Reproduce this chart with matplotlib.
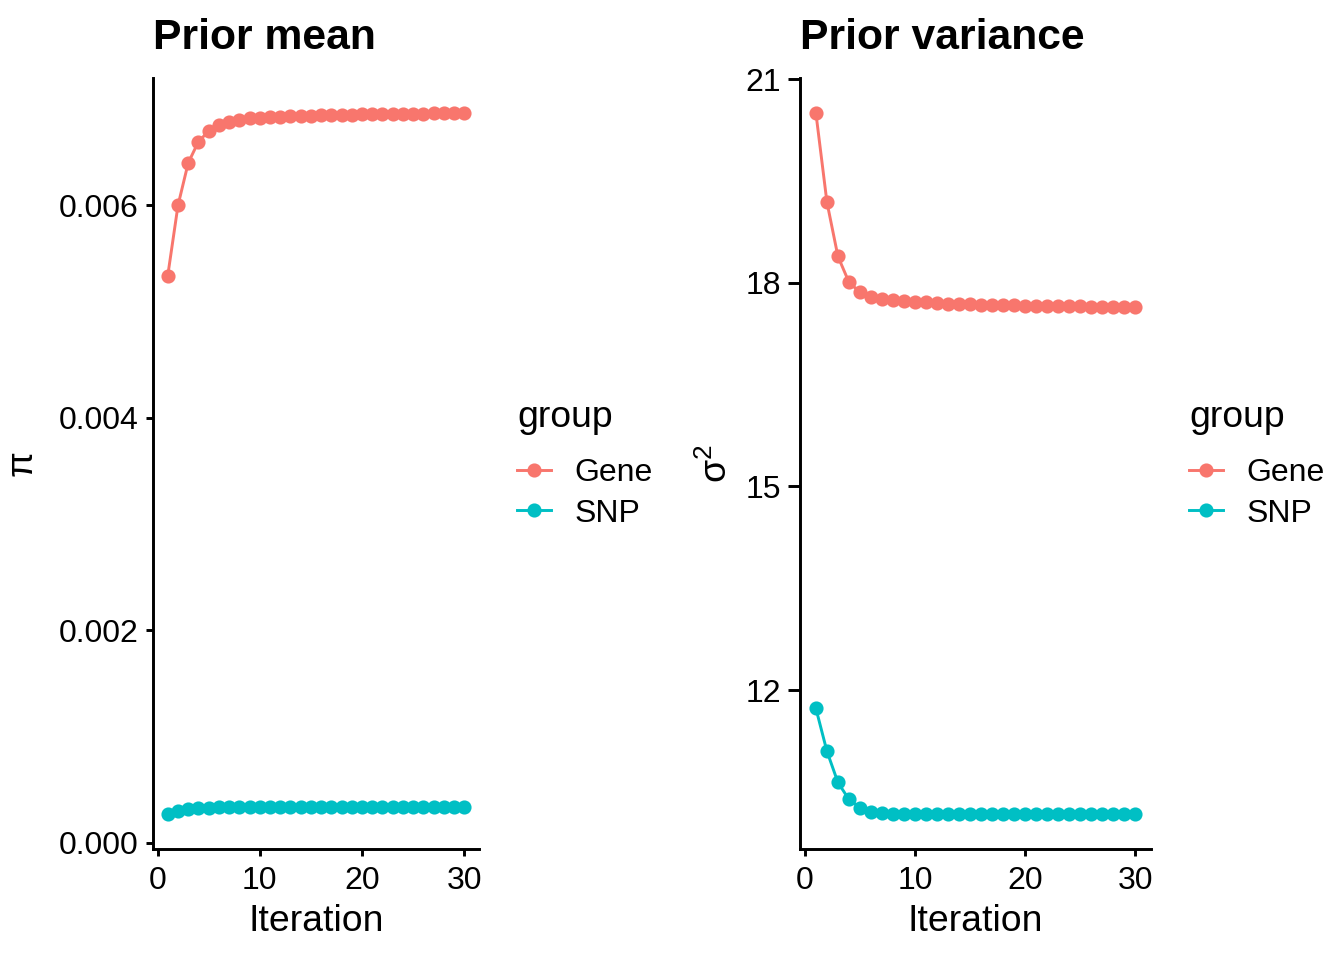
"""Prior mean / prior variance convergence over EM iterations."""

import matplotlib

matplotlib.use("Agg")
import matplotlib.pyplot as plt
from matplotlib.lines import Line2D
from matplotlib.ticker import FormatStrFormatter

plt.rcParams["font.family"] = ["Liberation Sans", "DejaVu Sans"]
plt.rcParams["mathtext.fontset"] = "custom"
plt.rcParams["mathtext.rm"] = "Liberation Sans"
plt.rcParams["mathtext.it"] = "Liberation Sans"

GENE_COLOR = "#F8766D"
SNP_COLOR = "#00BFC4"

iterations = list(range(1, 31))
groups = ["Gene", "SNP"]

# prior mean (pi)
pi_gene = [
    0.00534, 0.00600, 0.00640, 0.00660, 0.00670, 0.00676, 0.006786, 0.006805,
    0.00682, 0.006826, 0.00683, 0.006835, 0.00684, 0.006843, 0.006846,
    0.006849, 0.006851, 0.006853, 0.006855, 0.006857, 0.006859, 0.00686,
    0.006862, 0.006863, 0.006864, 0.006865, 0.006866, 0.006867, 0.006868,
    0.006869,
]
pi_snp = [
    0.000273, 0.000300, 0.000317, 0.000326, 0.000331, 0.000334, 0.000335,
    0.000336, 0.000336, 0.000337, 0.000337, 0.000337, 0.000337, 0.000337,
    0.000337, 0.000338, 0.000338, 0.000338, 0.000338, 0.000338, 0.000338,
    0.000338, 0.000338, 0.000338, 0.000338, 0.000338, 0.000338, 0.000338,
    0.000338, 0.000338,
]

# prior variance (sigma^2)
sigma2_gene = [
    20.50, 19.19, 18.39, 18.01, 17.86, 17.79, 17.755, 17.74, 17.73, 17.72,
    17.71, 17.70, 17.695, 17.69, 17.685, 17.68, 17.675, 17.67, 17.667,
    17.664, 17.661, 17.658, 17.656, 17.654, 17.652, 17.65, 17.648, 17.646,
    17.644, 17.642,
]
sigma2_snp = [
    11.73, 11.10, 10.64, 10.39, 10.27, 10.21, 10.19, 10.18, 10.178, 10.177,
    10.176, 10.176, 10.175, 10.175, 10.175, 10.175, 10.175, 10.175, 10.175,
    10.175, 10.175, 10.175, 10.175, 10.175, 10.175, 10.175, 10.175, 10.175,
    10.175, 10.175,
]


def style_axes(axes, title, ylabel, ylabel_x, ytick_length=2.75):
    """Apply a cowplot-like look to one panel."""
    for side in ("top", "right"):
        axes.spines[side].set_visible(False)
    for side in ("left", "bottom"):
        axes.spines[side].set_linewidth(1.1)
    axes.tick_params(width=1.1, labelsize=12, colors="black")
    axes.tick_params(axis="x", length=2.75, pad=3.6)
    axes.tick_params(axis="y", length=ytick_length, pad=2.5)
    axes.set_xticks([0, 10, 20, 30])
    axes.set_xlabel("Iteration", fontsize=14, labelpad=3)
    axes.set_ylabel(ylabel, fontsize=14)
    axes.yaxis.set_label_coords(ylabel_x, 0.5)
    axes.set_title(title, loc="left", fontsize=16, fontweight="bold",
                   pad=11)

    handles = [
        Line2D([0], [0], color=color, marker="o", markersize=4.3,
               linewidth=1.1, label=name)
        for name, color in zip(groups, (GENE_COLOR, SNP_COLOR))
    ]
    box = axes.get_position()
    legend = axes.legend(
        handles=handles,
        title="group",
        title_fontsize=14,
        fontsize=12,
        frameon=False,
        loc="center left",
        bbox_to_anchor=(box.x1 + 0.0165, 0.5165),
        bbox_transform=axes.figure.transFigure,
        alignment="left",
        handlelength=1.05,
        handletextpad=0.75,
        labelspacing=0.33,
        borderpad=0,
    )
    # wider gap between the legend title and its entries, as in ggplot
    legend._legend_box.sep = 8.8


figure = plt.figure(figsize=(7, 5), dpi=192)
left_axes = figure.add_axes([0.1138, 0.1156, 0.2426, 0.8031])
right_axes = figure.add_axes([0.5952, 0.1156, 0.2612, 0.8031])

line_style = dict(linewidth=1.1, marker="o", markersize=4.3)

left_axes.plot(iterations, pi_gene, color=GENE_COLOR, **line_style)
left_axes.plot(iterations, pi_snp, color=SNP_COLOR, **line_style)
left_axes.set_yticks([0.0, 0.002, 0.004, 0.006])
left_axes.yaxis.set_major_formatter(FormatStrFormatter("%.3f"))
style_axes(left_axes, "Prior mean", "π", -0.347)

right_axes.plot(iterations, sigma2_gene, color=GENE_COLOR, **line_style)
right_axes.plot(iterations, sigma2_snp, color=SNP_COLOR, **line_style)
right_axes.set_yticks([12, 15, 18, 21])
style_axes(right_axes, "Prior variance", "σ$^{2}$", -0.185,
           ytick_length=4.5)

figure.savefig("out.png", dpi=192, facecolor="white")
